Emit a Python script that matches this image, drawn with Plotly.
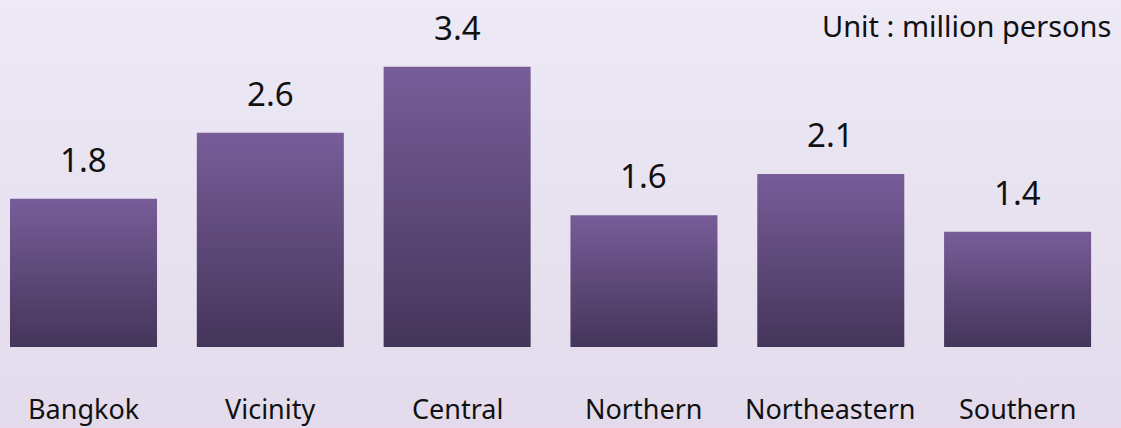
import base64
import plotly.graph_objects as go

categories = ["Bangkok", "Vicinity", "Central", "Northern", "Northeastern", "Southern"]
values = [1.8, 2.6, 3.4, 1.6, 2.1, 1.4]
value_labels = ["1.8", "2.6", "3.4", "1.6", "2.1", "1.4"]
unit_text = "Unit : million persons"

W, H = 1121, 428
BAR_W = 0.787
TOP_C = "#785d99"
BOT_C = "#44355a"
FONT = "Noto Sans"

fig = go.Figure()

for i, (cat, v) in enumerate(zip(categories, values)):
    x0, x1 = i - BAR_W / 2, i + BAR_W / 2
    fig.add_trace(go.Scatter(
        x=[x0, x1, x1, x0, x0], y=[0, 0, v, v, 0],
        mode="lines", line=dict(width=0), fill="toself",
        fillgradient=dict(type="vertical", colorscale=[[0, BOT_C], [1, TOP_C]]),
        hoverinfo="skip", showlegend=False, name=cat,
    ))
    fig.add_annotation(x=i, y=v, xref="x", yref="y", text=value_labels[i],
                       showarrow=False, yanchor="bottom", yshift=15,
                       font=dict(family=FONT, size=33, color="#111111"))
    fig.add_annotation(x=i, y=0, xref="x", yref="paper", text=cat,
                       showarrow=False, yanchor="top", yshift=-42, borderpad=0,
                       font=dict(family=FONT, size=27, color="#111111"))

fig.add_annotation(x=1113 / 1111, y=1, xref="paper", yref="paper", text=unit_text,
                   showarrow=False, xanchor="right", yanchor="top", yshift=-4,
                   font=dict(family=FONT, size=29, color="#111111"))

svg = (f'<svg xmlns="http://www.w3.org/2000/svg" width="{W}" height="{H}" preserveAspectRatio="none">'
       '<defs><linearGradient id="g" x1="0" y1="0" x2="0" y2="1">'
       '<stop offset="0" stop-color="#ede9f5"/><stop offset="1" stop-color="#e3dbec"/>'
       '</linearGradient></defs>'
       f'<rect width="{W}" height="{H}" fill="url(#g)"/></svg>')
src = "data:image/svg+xml;base64," + base64.b64encode(svg.encode()).decode()

ML, MR, MT, MB = 0, 10, 0, 81
pw, ph = W - ML - MR, H - MT - MB
fig.add_layout_image(dict(source=src, xref="paper", yref="paper",
                          x=-ML / pw, y=1 + MT / ph, sizex=W / pw, sizey=H / ph,
                          xanchor="left", yanchor="top", sizing="stretch", layer="below"))

fig.update_layout(
    width=W, height=H,
    margin=dict(l=ML, r=MR, t=MT, b=MB),
    paper_bgcolor="#e8e2f0", plot_bgcolor="rgba(0,0,0,0)",
    xaxis=dict(range=[-0.447, 5.5], visible=False, fixedrange=True),
    yaxis=dict(range=[0, 347 / 82.4], visible=False, fixedrange=True),
    showlegend=False,
)

fig.write_html("out.html", config={"displayModeBar": False},
               post_script="document.body.style.margin='0';document.body.style.overflow='hidden';")
